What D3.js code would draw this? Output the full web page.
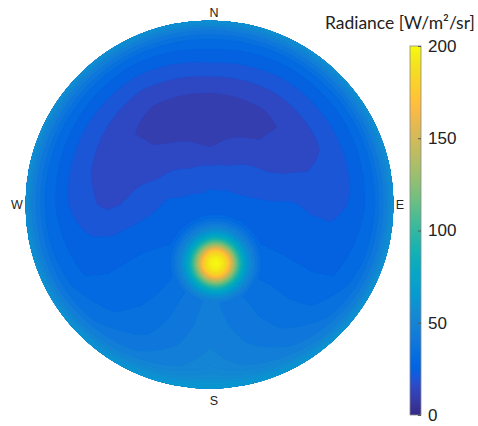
<!DOCTYPE html>
<html><head><meta charset="utf-8">
<script src="https://cdn.jsdelivr.net/npm/d3@7"></script>
<style>body{margin:0;background:#fff}</style>
</head><body>
<svg id="c" width="478" height="426"></svg>
<script>
// ---------- DATA ----------
const zenithDeg = [0, 10, 20, 30, 40, 50, 60, 70, 80, 85, 90];
const azimuthDeg = [0, 30, 60, 90, 120, 150, 180, 210, 240, 270, 300, 330]; // N=0, E=90
// background sky radiance [W/m²/sr], one row per zenith angle, one column per azimuth
const radiance = [
  [26.5, 26.5, 26.5, 26.5, 26.5, 26.5, 26.5, 26.5, 26.5, 26.5, 26.5, 26.5],
  [24.5, 24.5, 25.5, 26.5, 27.5, 29, 31, 28.5, 27, 26, 25, 24],
  [19.5, 20.5, 23, 26, 28, 32, 34, 30, 28, 26, 22.5, 20],
  [14, 18, 20.5, 25.5, 28.5, 34, 40, 32, 28.5, 23, 19, 17],
  [11.5, 14, 18, 25.5, 29, 35, 45, 34, 29, 20.5, 17.5, 13],
  [12.5, 13.5, 17.5, 24, 29, 37, 47, 35, 29, 19, 17, 12.5],
  [18, 18, 19.5, 23.5, 29, 38, 48, 36, 29, 21, 19, 17],
  [25.5, 24, 24.5, 25.5, 30, 40, 50, 38, 30, 25.5, 24, 23],
  [33, 32, 32, 33, 36, 45, 53, 44, 36, 34, 33, 32],
  [44, 44, 44, 45, 46, 52, 57, 52, 46, 45, 44, 44],
  [62, 60, 60, 61, 62, 64, 66, 64, 62, 60, 60, 60]
];
// sun position and circumsolar profile (angular distance from sun centre, degrees)
const sunZenith = 29, sunAzimuth = 174;
const sunDist = [0, 3, 5, 6, 7, 8, 9, 10, 11, 12.5, 14, 16, 18, 20, 23, 27, 32];
const sunRadiance = [200, 196, 185, 176, 164, 148, 132, 118, 105, 88, 75, 60, 50, 42, 32, 22, 0];
const barTicks = [0, 50, 100, 150, 200];
const compass = ["N", "E", "S", "W"];
const titleText = "Radiance [W/m²/sr]";

// parula colormap
const parulaRGB = [
[0.2081,0.1663,0.5292],[0.2116,0.1898,0.5777],[0.2123,0.2138,0.6270],[0.2081,0.2386,0.6771],
[0.1959,0.2645,0.7279],[0.1707,0.2919,0.7792],[0.1253,0.3242,0.8303],[0.0591,0.3598,0.8683],
[0.0117,0.3875,0.8820],[0.0060,0.4086,0.8828],[0.0165,0.4266,0.8786],[0.0329,0.4430,0.8720],
[0.0498,0.4586,0.8641],[0.0629,0.4737,0.8554],[0.0723,0.4887,0.8467],[0.0779,0.5040,0.8384],
[0.0793,0.5200,0.8312],[0.0749,0.5375,0.8263],[0.0641,0.5570,0.8240],[0.0488,0.5772,0.8228],
[0.0343,0.5966,0.8199],[0.0265,0.6137,0.8135],[0.0239,0.6287,0.8038],[0.0231,0.6418,0.7913],
[0.0228,0.6535,0.7768],[0.0267,0.6642,0.7607],[0.0384,0.6743,0.7436],[0.0590,0.6838,0.7254],
[0.0843,0.6928,0.7062],[0.1133,0.7015,0.6859],[0.1453,0.7098,0.6646],[0.1801,0.7177,0.6424],
[0.2178,0.7250,0.6193],[0.2586,0.7317,0.5954],[0.3022,0.7376,0.5712],[0.3482,0.7424,0.5473],
[0.3953,0.7459,0.5244],[0.4420,0.7481,0.5033],[0.4871,0.7491,0.4840],[0.5300,0.7491,0.4661],
[0.5709,0.7485,0.4494],[0.6099,0.7473,0.4337],[0.6473,0.7456,0.4188],[0.6834,0.7435,0.4044],
[0.7184,0.7411,0.3905],[0.7525,0.7384,0.3768],[0.7858,0.7356,0.3633],[0.8185,0.7327,0.3498],
[0.8507,0.7299,0.3360],[0.8824,0.7274,0.3217],[0.9139,0.7258,0.3063],[0.9450,0.7261,0.2886],
[0.9739,0.7314,0.2666],[0.9938,0.7455,0.2403],[0.9990,0.7653,0.2164],[0.9955,0.7861,0.1967],
[0.9880,0.8066,0.1794],[0.9789,0.8271,0.1633],[0.9697,0.8481,0.1475],[0.9626,0.8705,0.1309],
[0.9589,0.8949,0.1132],[0.9598,0.9218,0.0948],[0.9661,0.9514,0.0755],[0.9763,0.9831,0.0538]];
const parulaHex = parulaRGB.map(c => d3.rgb(c[0]*255, c[1]*255, c[2]*255).formatHex());

// ---------- LAYOUT ----------
const cx = 209.5, cy = 204.5, R = 184;
const svg = d3.select("#c");
const color = d3.scaleLinear()
  .domain(parulaHex.map((_, i) => i / (parulaHex.length - 1) * 200))
  .range(parulaHex).interpolate(d3.interpolateRgb).clamp(true);

const zScale = d3.scaleLinear().domain([0, R]).range([0, 90]).clamp(true);
const rScale = d3.scaleLinear().domain([0, 90]).range([0, R]);
const sunProfile = d3.scaleLinear().domain(sunDist).range(sunRadiance).clamp(true);

function background(z, az) {
  let i = d3.bisectRight(zenithDeg, z) - 1;
  i = Math.max(0, Math.min(i, zenithDeg.length - 2));
  const tz = (z - zenithDeg[i]) / (zenithDeg[i + 1] - zenithDeg[i]);
  const N = azimuthDeg.length, stepA = 360 / N;
  const fa = az / stepA, ja = Math.floor(fa) % N, jb = (ja + 1) % N, ta = fa - Math.floor(fa);
  const row = k => radiance[k][ja] * (1 - ta) + radiance[k][jb] * ta;
  return row(i) * (1 - tz) + row(i + 1) * tz;
}

const sr = rScale(sunZenith), sa = sunAzimuth * Math.PI / 180;
const sunX = cx + sr * Math.sin(sa), sunY = cy - sr * Math.cos(sa);

const x0 = Math.floor(cx - R) - 2, y0 = Math.floor(cy - R) - 2, n = Math.ceil(2 * R) + 6;
const grid = new Float64Array(n * n);
for (let j = 0; j < n; j++) {
  for (let i = 0; i < n; i++) {
    const px = x0 + i + 0.5, py = y0 + j + 0.5;
    const dx = px - cx, dy = py - cy;
    const z = zScale(Math.hypot(dx, dy));
    let az = Math.atan2(dx, -dy) * 180 / Math.PI; if (az < 0) az += 360;
    const b = background(z, az);
    const ds = zScale(Math.hypot(px - sunX, py - sunY));
    grid[j * n + i] = Math.max(b, sunProfile(ds));
  }
}

// contour levels: 5 apart in the dark sky, finer in the bright circumsolar region
const thresholds = d3.range(0, 50, 5).concat(d3.range(50, 201, 2.5));
const contours = d3.contours().size([n, n]).thresholds(thresholds)(grid);
const path = d3.geoPath(d3.geoIdentity().translate([x0, y0]));

svg.append("clipPath").attr("id", "disk")
  .append("circle").attr("cx", cx).attr("cy", cy).attr("r", R);
svg.append("g").attr("clip-path", "url(#disk)")
  .selectAll("path").data(contours).join("path")
  .attr("d", path)
  .attr("fill", d => color(d.value))
  .attr("stroke", d => color(d.value)).attr("stroke-width", 0.3);

// compass labels
const labelPos = {N: [214, 16.5], E: [400, 209], S: [214, 405], W: [17, 209]};
svg.append("g").selectAll("text").data(compass).join("text")
  .attr("x", d => labelPos[d][0]).attr("y", d => labelPos[d][1])
  .attr("text-anchor", "middle")
  .attr("font-family", "Liberation Sans, Arial, sans-serif")
  .attr("font-size", 12.5).attr("fill", "#222").text(d => d);

// colorbar
const barX = 410, barW = 11, barTop = 46, barBot = 415;
const yBar = d3.scaleLinear().domain([0, 200]).range([barBot, barTop]);
const grad = svg.append("defs").append("linearGradient").attr("id", "pg")
  .attr("x1", 0).attr("y1", 1).attr("x2", 0).attr("y2", 0);
grad.selectAll("stop").data(parulaHex).join("stop")
  .attr("offset", (d, i) => i / (parulaHex.length - 1)).attr("stop-color", d => d);
svg.append("rect").attr("x", barX).attr("y", barTop).attr("width", barW)
  .attr("height", barBot - barTop).attr("fill", "url(#pg)")
  .attr("stroke", "#8a8a8a").attr("stroke-width", 0.8);
const ax = svg.append("g").attr("transform", `translate(${barX + barW},0)`)
  .call(d3.axisRight(yBar).tickValues(barTicks).tickSize(-3).tickPadding(7).tickFormat(d3.format("d")));
ax.select(".domain").remove();
ax.selectAll(".tick line").attr("stroke", "#555");
ax.selectAll(".tick text").attr("font-family", "Liberation Sans, Arial, sans-serif")
  .attr("font-size", 17).attr("fill", "#222");

// title
const t = svg.append("text").attr("x", 325).attr("y", 29)
  .attr("font-family", "Lato, 'Open Sans', sans-serif").attr("font-size", 17)
  .attr("fill", "#222").text(titleText);
const w = t.node().getComputedTextLength();
if (w > 0) t.attr("font-size", 17 * 150 / w);
</script>
</body></html>
